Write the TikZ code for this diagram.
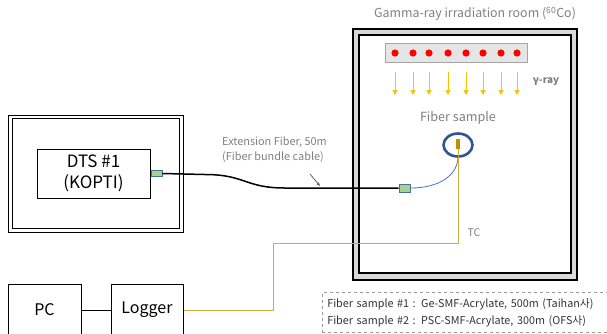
\documentclass[tikz,border=0pt]{standalone}
\usepackage{fontspec}
\setmainfont{Noto Sans CJK KR}
\usetikzlibrary{arrows.meta}
\usetikzlibrary{shapes.geometric}

\definecolor{navy}{HTML}{2F5597}
\definecolor{gold}{HTML}{BF9000}
\definecolor{tcline}{HTML}{D4AA3C}
\definecolor{ray}{HTML}{FFC000}
\definecolor{conn}{HTML}{A9D18E}
\definecolor{connedge}{HTML}{41719C}
\definecolor{fiberblue}{HTML}{4472C4}
\definecolor{txtgray}{HTML}{808080}

\tikzset{
  devbox/.style={draw,line width=1pt,fill=white,inner sep=0pt,font=\fontsize{16}{21}\selectfont},
  connbox/.style={draw=connedge,fill=conn,line width=0.8pt,minimum width=11pt,inner sep=0pt},
  graytext/.style={text=txtgray,inner sep=0pt},
}

\begin{document}
\begin{tikzpicture}[x=1pt,y=-1pt]
                \useasboundingbox (0,0) rectangle (607,333);
                \clip (0,0) rectangle (607,333);
                % irradiation room
                \draw[line width=1.5pt,fill=black!15] (353,29) rectangle (577,280);
                \draw[line width=1.5pt,fill=white] (359,35) rectangle (571,273);
                \node[graytext,font=\fontsize{12.4}{15}\selectfont] (title) at (475,14) {Gamma-ray irradiation room (\textsuperscript{60}Co)};
                \draw[draw=black!35,fill=black!10] (385,43) rectangle (527,62);
                \foreach \x in {395,413,429,448,466,483,501,517} {
                    \fill[red] (\x,53) circle (3.6);
                    \draw[ray,line width=1pt,-{Triangle[width=5pt,length=5pt]}] (\x,72)--(\x,95);
                }
                \node[graytext,font=\bfseries\fontsize{10}{12}\selectfont] (gamma) at (546,82) {γ-ray};
                \node[graytext,font=\fontsize{12.6}{15}\selectfont] (label) at (458,118) {Fiber sample};
                \node[draw=navy,line width=2.6pt,ellipse,minimum width=29pt,minimum height=23pt,inner sep=0pt] (sample) at (458,145) {};
                \node[fill=gold,minimum width=4.5pt,minimum height=10pt,inner sep=0pt] (tc) at (458,144) {};
                \node[graytext,font=\fontsize{10.5}{12}\selectfont] (tclabel) at (474,233) {TC};
                % DTS side
                \draw[line width=1pt] (8,115) rectangle (183,232);
                \draw[line width=1pt] (12,118.5) rectangle (179.5,228.5);
                \node[devbox,font=\fontsize{17}{21}\selectfont,minimum width=113pt,minimum height=49pt,align=center] (dts) at (93.5,173.5) {DTS \#1\\(KOPTI)};
                \node[connbox,minimum height=6pt,anchor=west] (conA) at (dts.east) {};
                \node[connbox,minimum height=8pt] (conB) at (404.5,188) {};
                \draw[line width=1.5pt] (conA.east) -- (205,174.5) .. controls (245,174.5) and (245,188) .. (285,188) -- (conB.west);
                \draw[fiberblue,line width=0.8pt] (conB.east) .. controls (440,188) and (457,175) .. (sample.south);
                \node[graytext,font=\fontsize{10.9}{15}\selectfont,align=left,anchor=west] (ext) at (222,150) {Extension Fiber, 50m\\(Fiber bundle cable)};
                \coordinate (ptrA) at (310,174);
                \coordinate (ptrB) at (320,186);
                \draw[black!70,line width=0.7pt,-{Stealth[length=4pt]}] (ptrA)--(ptrB);
                % logging
                \node[devbox,minimum width=73pt,minimum height=52pt] (pc) at (44.5,310) {PC};
                \node[devbox,minimum width=72pt,minimum height=52pt] (logger) at (147,310) {Logger};
                \draw[line width=1pt] (pc.east)--(logger.east -| logger.west);
                \draw[tcline,line width=1pt] (logger.east) -| (273,243) -| (tc.south);
                \node[draw=black!40,dashed,line width=0.6pt,anchor=north west,text width=290pt,inner xsep=5pt,inner ysep=6pt,align=left,
                    text=black!80,font=\fontsize{10.8}{17}\selectfont] (legend) at (322,292)
                    {Fiber sample \#1 : Ge-SMF-Acrylate, 500m (Taihan사)\\Fiber sample \#2 : PSC-SMF-Acrylate, 300m (OFS사)};
            \end{tikzpicture}
\end{document}
